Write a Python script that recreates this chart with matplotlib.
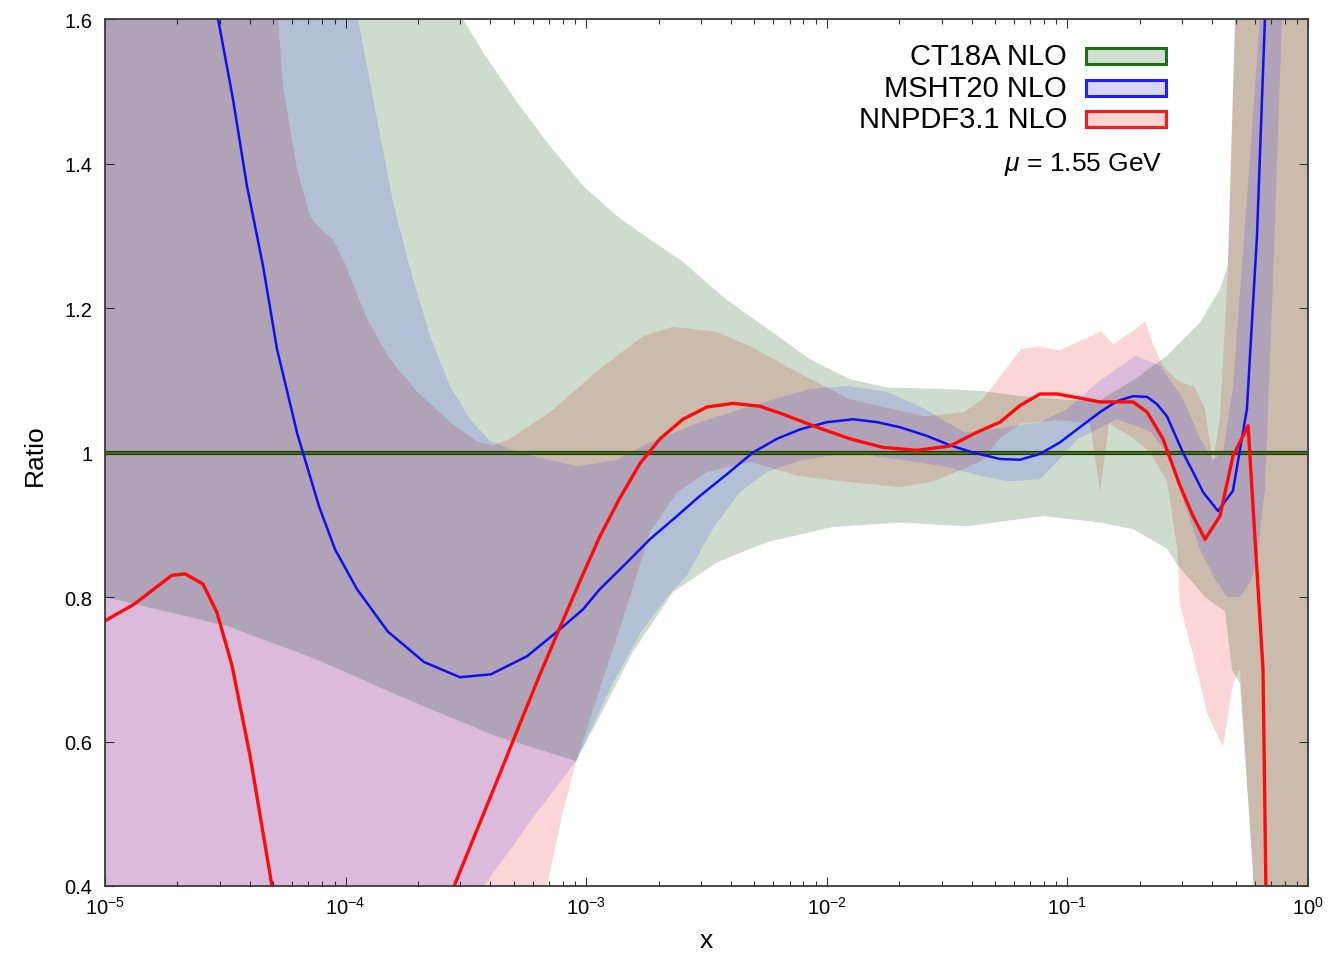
import numpy as np
import matplotlib
matplotlib.use("Agg")
import matplotlib.pyplot as plt
from matplotlib.patches import Rectangle
from matplotlib.ticker import LogLocator, NullFormatter, FixedLocator, FixedFormatter

plt.rcParams['font.family'] = ['Liberation Sans', 'DejaVu Sans']
plt.rcParams['mathtext.fontset'] = 'custom'
plt.rcParams['mathtext.rm'] = 'Liberation Sans'
plt.rcParams['mathtext.it'] = 'Liberation Sans:italic'

# ---------------- data (x given as log10 x) ----------------
# MSHT20 central ratio
msht_lx = np.array([-4.600, -4.530, -4.468, -4.410, -4.343, -4.285, -4.200, -4.110, -4.044, -3.953,
                    -3.824, -3.674, -3.525, -3.396, -3.246, -3.121, -3.013, -2.943, -2.830, -2.735,
                    -2.623, -2.527, -2.415, -2.307, -2.207, -2.111, -1.999, -1.891, -1.791, -1.696,
                    -1.584, -1.488, -1.392, -1.280, -1.197, -1.114, -1.031, -0.948, -0.864, -0.794,
                    -0.727, -0.669, -0.628, -0.586, -0.520, -0.478, -0.436, -0.374, -0.312, -0.254,
                    -0.212, -0.179, -0.158])
msht_y = np.array([1.730, 1.600, 1.489, 1.369, 1.258, 1.143, 1.025, 0.925, 0.866, 0.811,
                   0.752, 0.710, 0.689, 0.693, 0.718, 0.752, 0.783, 0.811, 0.848, 0.880,
                   0.912, 0.940, 0.970, 1.000, 1.019, 1.032, 1.042, 1.046, 1.042, 1.035,
                   1.023, 1.010, 1.000, 0.991, 0.990, 0.998, 1.014, 1.035, 1.056, 1.071,
                   1.078, 1.077, 1.067, 1.050, 1.000, 0.973, 0.945, 0.919, 0.947, 1.060,
                   1.300, 1.600, 1.750])

# NNPDF3.1 central ratio
nnpdf_lx = np.array([-5.000, -4.879, -4.722, -4.667, -4.593, -4.535, -4.472, -4.397, -4.306, -4.061,
                     -3.549, -3.358, -3.275, -3.192, -3.109, -3.026, -2.943, -2.860, -2.776, -2.693,
                     -2.598, -2.498, -2.390, -2.278, -2.182, -2.041, -1.904, -1.766, -1.625, -1.488,
                     -1.376, -1.280, -1.197, -1.114, -1.043, -0.977, -0.864, -0.727, -0.669, -0.603,
                     -0.532, -0.478, -0.428, -0.366, -0.312, -0.249, -0.187, -0.175, -0.158])
nnpdf_y = np.array([0.767, 0.790, 0.830, 0.832, 0.818, 0.779, 0.705, 0.580, 0.400, -0.050,
                    0.400, 0.556, 0.625, 0.693, 0.758, 0.822, 0.884, 0.937, 0.985, 1.019,
                    1.046, 1.063, 1.068, 1.064, 1.053, 1.035, 1.019, 1.007, 1.003, 1.009,
                    1.028, 1.042, 1.065, 1.081, 1.081, 1.077, 1.070, 1.070, 1.056, 1.019,
                    0.954, 0.912, 0.880, 0.912, 0.995, 1.037, 0.700, 0.400, 0.200])

# CT18A band (central = 1)
ct_up_lx = np.array([-5.000, -3.600, -3.512, -3.429, -3.288, -3.150, -3.013, -2.872, -2.735, -2.598,
                     -2.419, -2.228, -2.070, -1.908, -1.750, -1.513, -1.351, -1.193, -0.877, -0.727,
                     -0.586, -0.449, -0.366, -0.333, -0.303, -0.283, 0.000])
ct_up_y = np.array([2.50, 1.75, 1.60, 1.554, 1.485, 1.424, 1.369, 1.327, 1.295, 1.264,
                    1.212, 1.167, 1.129, 1.102, 1.090, 1.088, 1.085, 1.078, 1.070, 1.100,
                    1.134, 1.180, 1.226, 1.260, 1.600, 2.500, 2.500])
ct_lo_lx = np.array([-5.000, -4.493, -4.123, -3.749, -3.379, -3.042, -2.943, -2.806, -2.639, -2.456,
                     -2.249, -1.974, -1.696, -1.417, -1.101, -0.864, -0.727, -0.586, -0.544, -0.428,
                     -0.345, -0.316, -0.283, -0.229, -0.191, 0.000])
ct_lo_y = np.array([0.800, 0.760, 0.714, 0.659, 0.608, 0.573, 0.635, 0.724, 0.807, 0.848,
                    0.876, 0.897, 0.903, 0.898, 0.912, 0.903, 0.894, 0.867, 0.845, 0.800,
                    0.780, 0.700, 0.680, 0.420, 0.200, 0.200])

# MSHT20 band
msht_up_lx = np.array([-5.000, -4.021, -3.948, -3.870, -3.803, -3.732, -3.649, -3.566, -3.483, -3.400,
                       -3.317, -3.221, -3.038, -2.872, -2.735, -2.527, -2.319, -2.070, -1.908, -1.750,
                       -1.592, -1.430, -1.351, -1.114, -1.002, -0.864, -0.715, -0.615, -0.520, -0.449,
                       -0.395, -0.353, -0.312, -0.254, -0.200, -0.158, 0.000])
msht_up_y = np.array([2.50, 2.00, 1.60, 1.462, 1.347, 1.254, 1.161, 1.092, 1.046, 1.016,
                      1.005, 0.995, 0.981, 0.990, 1.014, 1.042, 1.064, 1.088, 1.092, 1.084,
                      1.060, 1.028, 1.030, 1.042, 1.060, 1.100, 1.134, 1.120, 1.074, 1.020,
                      0.990, 1.000, 1.090, 1.350, 1.600, 2.500, 2.500])
msht_lo_lx = np.array([-5.000, -3.608, -3.425, -3.209, -3.042, -2.901, -2.776, -2.664, -2.581, -2.473,
                       -2.361, -2.249, -2.112, -1.904, -1.696, -1.513, -1.351, -1.243, -1.114, -1.035,
                       -0.956, -0.794, -0.657, -0.586, -0.520, -0.449, -0.378, -0.337, -0.283, -0.241,
                       -0.212, -0.179, -0.150, -0.108, -0.075])
msht_lo_y = np.array([0.00, 0.00, 0.40, 0.50, 0.573, 0.673, 0.750, 0.800, 0.830, 0.895,
                      0.945, 0.973, 0.989, 1.000, 0.990, 0.981, 0.967, 0.960, 0.963, 0.990,
                      1.019, 1.046, 1.030, 1.000, 0.936, 0.866, 0.820, 0.800, 0.800, 0.820,
                      0.850, 0.950, 1.200, 1.600, 2.500])

# NNPDF3.1 band
nnpdf_up_lx = np.array([-5.000, -4.355, -4.281, -4.260, -4.202, -4.148, -4.098, -4.052, -4.011, -3.911,
                        -3.815, -3.703, -3.566, -3.454, -3.387, -3.317, -3.150, -2.943, -2.764, -2.639,
                        -2.456, -2.319, -2.149, -1.908, -1.592, -1.430, -1.351, -1.193, -1.114, -1.035,
                        -0.956, -0.860, -0.810, -0.715, -0.677, -0.644, -0.603, -0.544, -0.470, -0.428,
                        -0.395, -0.366, -0.333, -0.303, -0.283, 0.000])
nnpdf_up_y = np.array([2.50, 2.00, 1.60, 1.507, 1.392, 1.327, 1.307, 1.295, 1.268, 1.185,
                       1.129, 1.084, 1.042, 1.015, 1.010, 1.019, 1.056, 1.116, 1.161, 1.174,
                       1.167, 1.147, 1.116, 1.074, 1.050, 1.056, 1.074, 1.143, 1.147, 1.141,
                       1.153, 1.168, 1.150, 1.171, 1.182, 1.150, 1.120, 1.100, 1.090, 1.060,
                       0.985, 1.050, 1.250, 1.600, 2.500, 2.500])
nnpdf_lo_lx = np.array([-5.000, -3.384, -3.163, -3.101, -3.038, -2.943, -2.830, -2.735, -2.623, -2.498,
                        -2.319, -2.112, -1.904, -1.696, -1.559, -1.430, -1.351, -1.280, -1.193, -1.035,
                        -0.906, -0.864, -0.827, -0.727, -0.657, -0.586, -0.544, -0.532, -0.449, -0.420,
                        -0.353, -0.312, -0.283, -0.229, -0.200, 0.000])
nnpdf_lo_y = np.array([0.00, 0.00, 0.40, 0.497, 0.576, 0.673, 0.788, 0.890, 0.945, 0.973,
                       0.987, 0.967, 0.959, 0.952, 0.960, 0.977, 0.990, 1.020, 1.040, 1.045,
                       1.040, 0.945, 1.040, 1.020, 1.000, 0.960, 0.868, 0.789, 0.682, 0.640,
                       0.592, 0.680, 0.700, 0.420, 0.000, 0.000])

ct_line_y = 1.0
labels = ["CT18A NLO", "MSHT20 NLO", "NNPDF3.1 NLO"]
yticks = [0.4, 0.6, 0.8, 1.0, 1.2, 1.4, 1.6]
ytick_labels = ["0.4", "0.6", "0.8", "1", "1.2", "1.4", "1.6"]
xticks = [1e-5, 1e-4, 1e-3, 1e-2, 1e-1, 1e0]
xtick_labels = [r"$10^{-5}$", r"$10^{-4}$", r"$10^{-3}$", r"$10^{-2}$", r"$10^{-1}$", r"$10^{0}$"]

# ---------------- figure ----------------
W, H = 1337, 954
fig = plt.figure(figsize=(W / 100, H / 100), dpi=100)
ax = fig.add_axes([105 / W, 1 - 887 / H, (1308 - 105) / W, (887 - 20) / H])

def band(up_lx, up_y, lo_lx, lo_y, color, alpha, z):
    xs = np.concatenate([10.0 ** up_lx, 10.0 ** lo_lx[::-1]])
    ys = np.concatenate([up_y, lo_y[::-1]])
    ax.fill(xs, ys, color=color, alpha=alpha, lw=0, zorder=z)

band(nnpdf_up_lx, nnpdf_up_y, nnpdf_lo_lx, nnpdf_lo_y, '#f00000', 0.16, 1)
band(ct_up_lx, ct_up_y, ct_lo_lx, ct_lo_y, '#0a500a', 0.20, 2)
band(msht_up_lx, msht_up_y, msht_lo_lx, msht_lo_y, '#0000ff', 0.13, 3)

ax.axhline(ct_line_y, color='#1f3a10', lw=3.0, zorder=5)
ax.axhline(ct_line_y, color='#4a7414', lw=1.3, zorder=5)
ax.plot(10.0 ** msht_lx, msht_y, color='#1010ee', lw=1.8, zorder=6, solid_joinstyle='round')
ax.plot(10.0 ** nnpdf_lx, nnpdf_y, color='#ff0a0a', lw=2.4, zorder=7, solid_joinstyle='round')

ax.set_xscale('log')
ax.set_xlim(1e-5, 1)
ax.set_ylim(0.4, 1.6)
ax.xaxis.set_major_locator(FixedLocator(xticks))
ax.xaxis.set_major_formatter(FixedFormatter(xtick_labels))
ax.xaxis.set_minor_locator(LogLocator(base=10, subs=np.arange(2, 10), numticks=50))
ax.xaxis.set_minor_formatter(NullFormatter())
ax.yaxis.set_major_locator(FixedLocator(yticks))
ax.yaxis.set_major_formatter(FixedFormatter(ytick_labels))

ax.tick_params(which='both', direction='in', top=True, right=True, color='#333333', width=0.8)
ax.tick_params(which='major', length=6.5)
ax.tick_params(which='minor', length=3.8)
ax.tick_params(axis='y', labelsize=14.5, pad=9)
ax.tick_params(axis='x', labelsize=14.5, pad=7)
for sp in ax.spines.values():
    sp.set_color('#3a3a3a')
    sp.set_linewidth(1.3)
    sp.set_zorder(10)

fig.text(706 / W, 1 - 941 / H, 'x', ha='center', va='center', fontsize=19)
fig.text(35 / W, 1 - 455 / H, 'Ratio', ha='center', va='center', fontsize=19, rotation=90)

# ---------------- legend ----------------
leg_edges = ['#1e6e1e', '#2020ff', '#ff1a1a']
leg_faces = ['#cfdccf', '#d6d6f8', '#f9d4d4']
leg_yc = [57, 89, 120]
for lab, ec, fc, yc in zip(labels, leg_edges, leg_faces, leg_yc):
    fig.text(1067 / W, 1 - yc / H, lab, ha='right', va='center', fontsize=21)
    r = Rectangle((1086 / W, 1 - (yc + 8) / H), (1166 - 1086) / W, 16 / H,
                  transform=fig.transFigure, facecolor=fc, edgecolor=ec, lw=2.2)
    fig.add_artist(r)
fig.text(1162 / W, 1 - 165 / H, r'$\mu$ = 1.55 GeV', ha='right', va='center', fontsize=19)

fig.savefig('out.png', dpi=100)
